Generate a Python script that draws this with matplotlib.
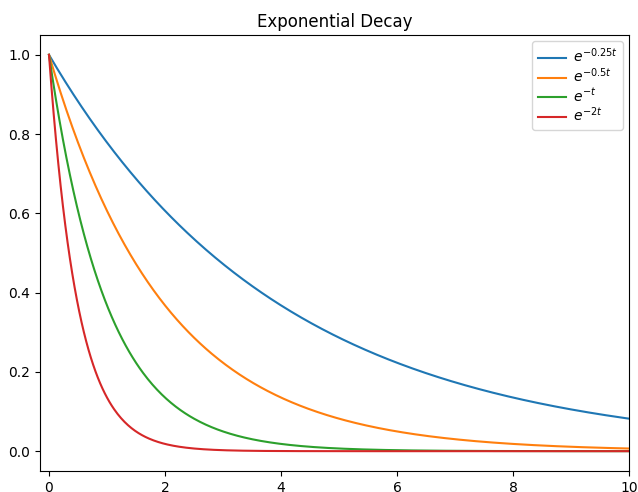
import numpy as np
import matplotlib
matplotlib.use("Agg")
import matplotlib.pyplot as plt

rates = [0.25, 0.5, 1.0, 2.0]
labels = [r"$e^{-0.25t}$", r"$e^{-0.5t}$", r"$e^{-t}$", r"$e^{-2t}$"]
t = np.linspace(0, 10, 500)

fig = plt.figure(figsize=(6.38, 4.92), dpi=100)
ax = fig.add_axes([40/638, 1-471/492, (629-40)/638, (471-35)/492])
for k, lab in zip(rates, labels):
    ax.plot(t, np.exp(-k*t), label=lab)
ax.set_xlim(-0.155, 10)
ax.set_title("Exponential Decay")
ax.legend(loc="upper right", labelspacing=0.1, handletextpad=0.5,
          borderaxespad=0.45)
fig.savefig("out.png", dpi=100)
